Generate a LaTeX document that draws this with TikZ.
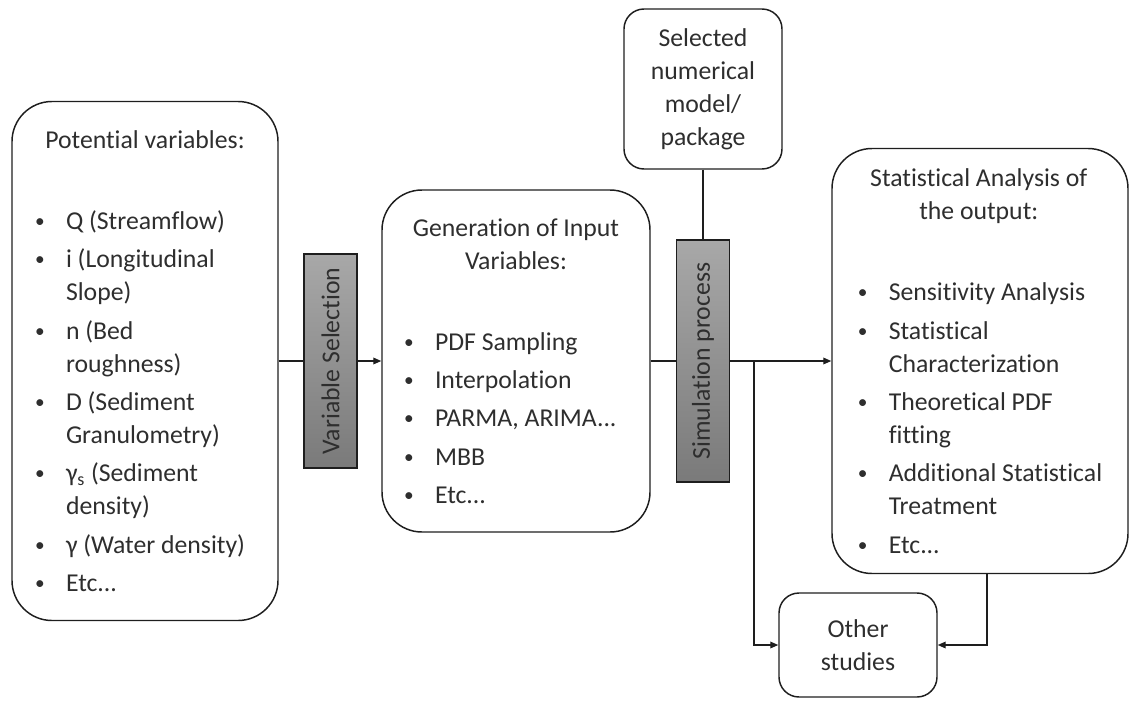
\documentclass[tikz,border=0pt]{standalone}
\usepackage{fontspec}
\setmainfont{Carlito}[Ligatures={NoCommon,NoRare,NoContextual}]
\usepackage{tikz}
\usetikzlibrary{arrows.meta,positioning,calc}
\definecolor{FlowInk}{HTML}{2E2E2E}
\definecolor{FlowEdge}{HTML}{1E1E1E}
\definecolor{BarLight}{HTML}{A8A8A8}
\definecolor{BarDark}{HTML}{7A7A7A}
\newcommand{\bitem}[1]{\makebox[23.25pt][l]{\raisebox{1.5pt}{\fontsize{14.5pt}{14.5pt}\selectfont\textbullet}}#1}
\newcommand{\bcont}[1]{\hspace*{23.25pt}#1}

\begin{document}
\begin{tikzpicture}[
    x=0.75pt, y=-0.75pt,
    box/.style={
      draw=FlowEdge,
      line width=1.1pt,
      rounded corners=#1,
      text=FlowInk,
      font=\fontsize{19.3pt}{24.75pt}\selectfont,
      inner sep=0pt
    },
    box/.default=30pt,
    bar/.style={
      draw=FlowEdge,
      line width=1.1pt,
      top color=BarLight,
      bottom color=BarDark,
      rotate=90,
      minimum height=39.75pt,
      text=FlowInk,
      font=\fontsize{19.3pt}{24.75pt}\selectfont
    },
    link/.style={draw=FlowEdge, line width=1pt},
    flow/.style={link, -{Triangle[length=6pt,width=5pt]}}
  ]
  \useasboundingbox (0,0) rectangle (1138,700);

  % Potential variables
  \node[box, align=left, minimum width=199.5pt, minimum height=389.25pt] (potvar) at (145,361) {%
    \makebox[165pt]{Potential variables:}\\[36pt]
    \bitem{Q (Streamflow)}\\[4pt]
    \bitem{i (Longitudinal}\\
    \bcont{Slope)}\\[4pt]
    \bitem{n (Bed}\\
    \bcont{roughness)}\\[4pt]
    \bitem{D (Sediment}\\
    \bcont{Granulometry)}\\[4pt]
    \bitem{γ\textsubscript{s} (Sediment}\\
    \bcont{density)}\\[4pt]
    \bitem{γ (Water density)}\\[4pt]
    \bitem{Etc...}};

  % Variable selection
  \node[bar, minimum width=160.5pt] (varsel) at (330.5,361) {Variable Selection};

  % Generation of input variables
  \node[box, align=left, minimum width=201pt, minimum height=256.5pt] (geninp) at (516,361) {%
    \makebox[168pt]{Generation of Input}\\
    \makebox[168pt]{Variables:}\\[36pt]
    \bitem{PDF Sampling}\\[4pt]
    \bitem{Interpolation}\\[4pt]
    \bitem{PARMA, ARIMA...}\\[4pt]
    \bitem{MBB}\\[4pt]
    \bitem{Etc...}};

  % Simulation process and model
  \node[bar, minimum width=181.5pt] (simproc) at (703,361) {Simulation process};
  \node[box=15pt, align=center, minimum width=118.5pt, minimum height=120pt] (selmod) at (703,89) {%
    Selected\\numerical\\model/\\package};

  % Statistical analysis
  \node[box, align=left, minimum width=222pt, minimum height=318.75pt] (stats) at (980,361) {%
    \makebox[181.5pt]{Statistical Analysis of}\\
    \makebox[181.5pt]{the output:}\\[36pt]
    \bitem{Sensitivity Analysis}\\[4pt]
    \bitem{Statistical}\\
    \bcont{Characterization}\\[4pt]
    \bitem{Theoretical PDF}\\
    \bcont{fitting}\\[4pt]
    \bitem{Additional Statistical}\\
    \bcont{Treatment}\\[4pt]
    \bitem{Etc...}};

  % Other studies
  \node[box=15pt, align=center, minimum width=118.5pt, minimum height=78pt] (other) at (858,645) {%
    Other\\studies};

  \coordinate (split) at (754,361);

  % Connectors
  \draw[link] (potvar) -- (varsel);
  \draw[flow] (varsel) -- (geninp);
  \draw[link] (geninp) -- (simproc);
  \draw[link] (selmod) -- (simproc);
  \draw[flow] (simproc) -- (stats);
  \draw[flow] (split) |- (other);
  \draw[flow] ([xshift=5.25pt]stats.south) |- (other);

\end{tikzpicture}
\end{document}
